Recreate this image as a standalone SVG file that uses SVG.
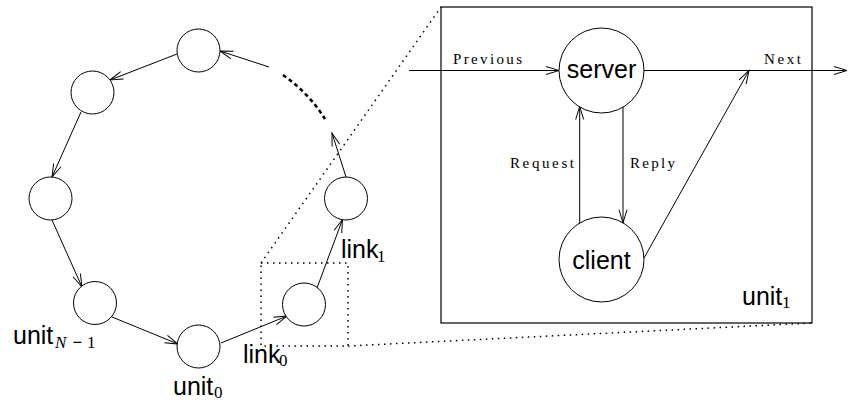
<svg xmlns="http://www.w3.org/2000/svg" width="848" height="402" viewBox="0 0 848 402">
<defs>
<marker id="arr" markerUnits="userSpaceOnUse" markerWidth="16" markerHeight="12" viewBox="-14 -6 16 12" refX="0" refY="0" orient="auto">
<path d="M-13,-4 L0,0 L-13,4" fill="none" stroke="#000" stroke-width="1"/>
</marker>
</defs>
<style>
.n{fill:#fff;stroke:#000;stroke-width:1}
.c{fill:none;stroke:#000;stroke-width:1;marker-end:url(#arr)}
.dot{fill:none;stroke:#000;stroke-width:1.5;stroke-dasharray:1.5 4.5}
.sans{font-family:"Liberation Sans",Arial,sans-serif;font-size:25px;fill:#000}
.sub{font-family:"Liberation Serif","Times New Roman",serif;font-size:17px}
.lab{font-family:"Liberation Serif","Times New Roman",serif;font-size:15px;fill:#000}
</style>
<rect width="848" height="402" fill="#fff"/>
<g id="zoom-lines">
<path class="dot" d="M261,263 H348 V346 H261 Z"/>
<path class="dot" d="M261,263 L441,7"/>
<path class="dot" d="M348,346 L812,323"/>
</g>
<g id="unit1-box">
<rect x="441" y="7" width="371" height="316" fill="none" stroke="#000" stroke-width="1.2"/>
<text class="sans" x="742" y="305">unit<tspan class="sub" x="782" y="308">1</tspan></text>
</g>
<g id="connectors">
<line class="c" x1="177" y1="54" x2="110" y2="80"/>
<line class="c" x1="81" y1="112" x2="52" y2="177"/>
<line class="c" x1="52" y1="220" x2="82" y2="287"/>
<line class="c" x1="112" y1="317" x2="178" y2="344"/>
<line class="c" x1="221" y1="343" x2="287" y2="316"/>
<line class="c" x1="317" y1="288" x2="342.5" y2="219.5"/>
<line class="c" x1="346" y1="177" x2="332" y2="133"/>
<line class="c" x1="269" y1="67" x2="220" y2="51"/>
<path d="M283,75 A149.5,149.5 0 0 1 325,119" fill="none" stroke="#000" stroke-width="2.6" stroke-dasharray="4 3.2"/>
<line class="c" x1="409" y1="70.5" x2="559" y2="70.5"/>
<line class="c" x1="644" y1="70.5" x2="847" y2="70.5"/>
<line class="c" x1="579.7" y1="223" x2="579.7" y2="106.5"/>
<line class="c" x1="623" y1="107" x2="623" y2="222.8"/>
<line class="c" x1="644" y1="258" x2="749" y2="70.5"/>
<text class="lab" x="453" y="64" textLength="69" lengthAdjust="spacing">Previous</text>
<text class="lab" x="764" y="64" textLength="37" lengthAdjust="spacing">Next</text>
<text class="lab" x="510" y="168" textLength="64" lengthAdjust="spacing">Request</text>
<text class="lab" x="630" y="168" textLength="45" lengthAdjust="spacing">Reply</text>
</g>
<g id="node-top"><circle class="n" cx="198.5" cy="50.5" r="21.5"/></g>
<g id="node-upper-left"><circle class="n" cx="92.5" cy="92.5" r="21.5"/></g>
<g id="node-left"><circle class="n" cx="50.5" cy="198.5" r="21.5" stroke-width="1.8"/></g>
<g id="node-unitN-1"><circle class="n" cx="95" cy="303" r="21.5"/>
<text class="sans" x="13" y="344">unit<tspan class="sub" x="55" y="348" font-style="italic">N</tspan><tspan class="sub" x="72.5" y="348" font-weight="bold">−</tspan><tspan class="sub" x="87" y="348">1</tspan></text></g>
<g id="node-unit0"><circle class="n" cx="198.5" cy="346.5" r="21.5"/>
<text class="sans" x="173" y="395">unit<tspan class="sub" x="214" y="398">0</tspan></text></g>
<g id="node-link0"><circle class="n" cx="304" cy="304.5" r="21.5"/>
<text class="sans" x="243" y="363">link<tspan class="sub" x="279" y="366">0</tspan></text></g>
<g id="node-link1"><circle class="n" cx="346" cy="198.5" r="21.5"/>
<text class="sans" x="341" y="258">link<tspan class="sub" x="377" y="262">1</tspan></text></g>
<g id="node-server"><circle class="n" cx="601.5" cy="70.5" r="42.5"/>
<text class="sans" x="601.5" y="78" text-anchor="middle">server</text></g>
<g id="node-client"><circle class="n" cx="601.5" cy="259.5" r="42.5"/>
<text class="sans" x="601.5" y="269" text-anchor="middle">client</text></g>
</svg>
